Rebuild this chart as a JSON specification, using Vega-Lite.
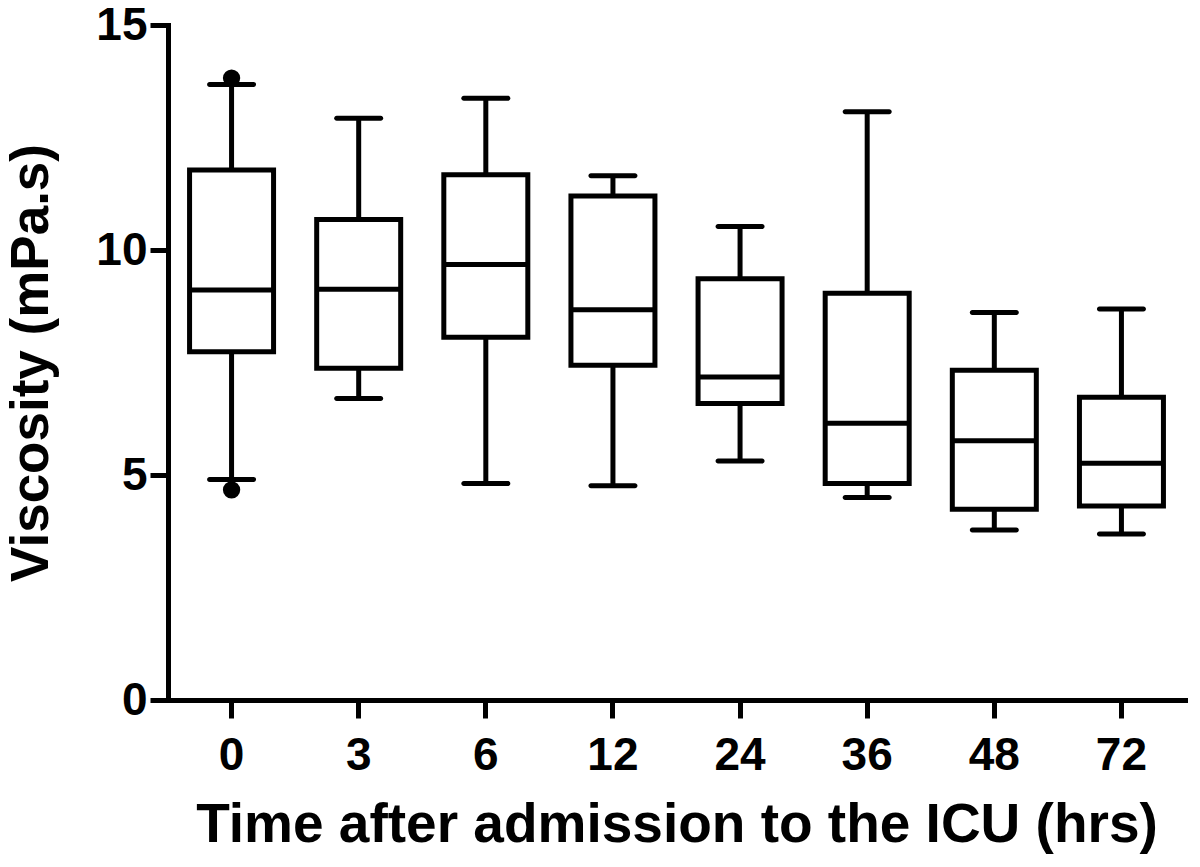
{
  "$schema": "https://vega.github.io/schema/vega-lite/v6.json",
  "autosize": "none",
  "width": 1017,
  "height": 675,
  "padding": {"left": 168, "top": 25, "right": 15, "bottom": 167},
  "background": "white",
  "config": {
    "view": {"stroke": null},
    "font": "Liberation Sans",
    "axis": {
      "domainColor": "black",
      "domainWidth": 5,
      "domainCap": "square",
      "tickColor": "black",
      "tickWidth": 5,
      "tickSize": 18,
      "grid": false,
      "labelFont": "Liberation Sans",
      "labelFontWeight": "bold",
      "labelFontSize": 46,
      "labelColor": "black",
      "titleFont": "Liberation Sans",
      "titleFontWeight": "bold",
      "titleFontSize": 55,
      "titleColor": "black"
    }
  },
  "datasets": {
    "boxes": [
      {"time": "0", "lo": 4.90, "q1": 7.74, "med": 9.11, "q3": 11.78, "hi": 13.68},
      {"time": "3", "lo": 6.70, "q1": 7.37, "med": 9.13, "q3": 10.68, "hi": 12.93},
      {"time": "6", "lo": 4.81, "q1": 8.06, "med": 9.68, "q3": 11.67, "hi": 13.37},
      {"time": "12", "lo": 4.76, "q1": 7.44, "med": 8.67, "q3": 11.20, "hi": 11.65},
      {"time": "24", "lo": 5.31, "q1": 6.59, "med": 7.18, "q3": 9.36, "hi": 10.52},
      {"time": "36", "lo": 4.50, "q1": 4.81, "med": 6.15, "q3": 9.04, "hi": 13.07},
      {"time": "48", "lo": 3.78, "q1": 4.24, "med": 5.76, "q3": 7.33, "hi": 8.61},
      {"time": "72", "lo": 3.69, "q1": 4.31, "med": 5.26, "q3": 6.73, "hi": 8.69}
    ],
    "outliers": [
      {"time": "0", "value": 13.82},
      {"time": "0", "value": 4.67}
    ]
  },
  "encoding": {
    "x": {
      "field": "time",
      "type": "ordinal",
      "sort": ["0", "3", "6", "12", "24", "36", "48", "72"],
      "scale": {"type": "band", "paddingInner": 0, "paddingOuter": 0},
      "axis": {"labelAngle": 0, "labelPadding": 15, "titlePadding": 20, "title": "Time after admission to the ICU (hrs)"}
    }
  },
  "layer": [
    {
      "data": {"name": "boxes"},
      "mark": {"type": "rule", "color": "black", "strokeWidth": 5},
      "encoding": {
        "y": {
          "field": "lo",
          "type": "quantitative",
          "scale": {"domain": [0, 15], "nice": false, "zero": true},
          "axis": {"values": [0, 5, 10, 15], "labelPadding": 3, "titlePadding": 37, "titleFontSize": 53, "title": "Viscosity (mPa.s)"}
        },
        "y2": {"field": "hi"}
      }
    },
    {
      "data": {"name": "boxes"},
      "mark": {"type": "bar", "fill": "white", "stroke": "black", "strokeWidth": 5, "width": 84},
      "encoding": {
        "y": {"field": "q1", "type": "quantitative"},
        "y2": {"field": "q3"}
      }
    },
    {
      "data": {"name": "boxes"},
      "mark": {"type": "tick", "color": "black", "size": 84, "thickness": 5, "opacity": 1},
      "encoding": {
        "y": {"field": "med", "type": "quantitative"}
      }
    },
    {
      "data": {"name": "boxes"},
      "mark": {"type": "tick", "color": "black", "size": 49, "thickness": 5, "opacity": 1, "cornerRadius": 2.5},
      "encoding": {
        "y": {"field": "lo", "type": "quantitative"}
      }
    },
    {
      "data": {"name": "boxes"},
      "mark": {"type": "tick", "color": "black", "size": 49, "thickness": 5, "opacity": 1, "cornerRadius": 2.5},
      "encoding": {
        "y": {"field": "hi", "type": "quantitative"}
      }
    },
    {
      "data": {"name": "outliers"},
      "mark": {"type": "circle", "color": "black", "size": 300, "opacity": 1},
      "encoding": {
        "y": {"field": "value", "type": "quantitative"}
      }
    }
  ]
}
